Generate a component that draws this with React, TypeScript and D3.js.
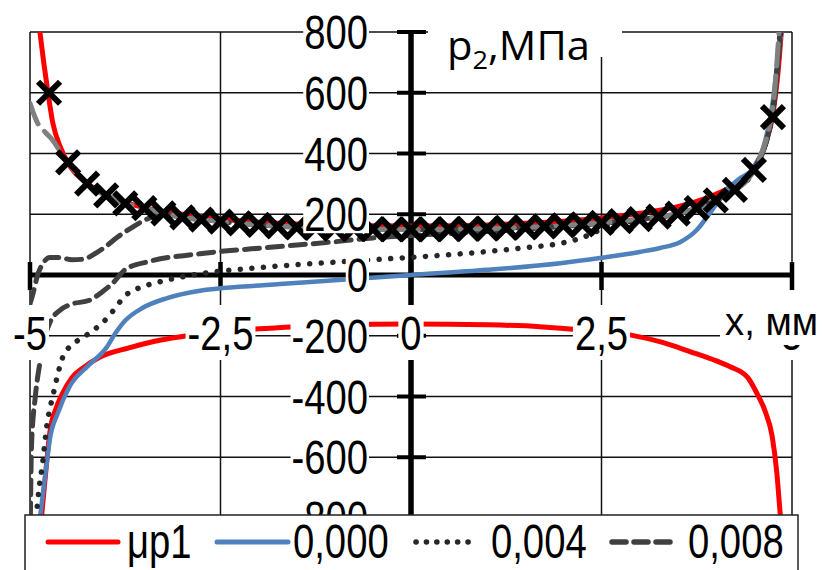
import React from "react";
import * as d3 from "d3";

type P = [number, number];

const X_TICKS = [-5, -2.5, 0, 2.5, 5];
const X_TICK_LABELS = ["-5", "-2,5", "0", "2,5", "5"];
const Y_TICKS = [-800, -600, -400, -200, 0, 200, 400, 600, 800];
const Y_TICK_LABELS = ["-800", "-600", "-400", "-200", "0", "200", "400", "600", "800"];

const LEGEND_LABELS = ["μp1", "0,000", "0,004", "0,008"];

const RED_UPPER: P[] = [[-4.87,800],[-4.82,700],[-4.77,610],[-4.7,500],[-4.6,420],[-4.5,368],[-4.25,302],[-4.0,262],[-3.75,238],[-3.5,222],[-3.0,200],[-2.5,184],[-2.0,174],[-1.5,168],[-1.0,164],[-0.5,162],[0,161],[0.5,162],[1.0,165],[1.5,170],[2.0,177],[2.5,188],[3.0,203],[3.5,225],[3.75,242],[4.0,266],[4.25,298],[4.5,355],[4.65,430],[4.75,530],[4.81,650],[4.86,800]];
const RED_LOWER: P[] = [[-4.85,-800],[-4.82,-720],[-4.79,-640],[-4.74,-518],[-4.66,-440],[-4.58,-393],[-4.45,-338],[-4.3,-305],[-4.08,-270],[-3.7,-240],[-3.3,-215],[-2.94,-200],[-2.5,-188],[-2.0,-177],[-1.5,-170],[-1.0,-165],[-0.5,-162],[0,-161],[0.5,-162],[1.0,-164],[1.69,-170],[2.3,-182],[2.87,-197],[3.3,-222],[3.66,-252],[4.0,-282],[4.19,-302],[4.42,-338],[4.55,-395],[4.65,-450],[4.74,-531],[4.8,-649],[4.84,-770],[4.85,-800]];
const BLUE_000: P[] = [[-4.87,-800],[-4.82,-700],[-4.78,-620],[-4.74,-541],[-4.63,-452],[-4.48,-367],[-4.25,-302],[-4.0,-240],[-3.88,-192],[-3.75,-150],[-3.52,-108],[-3.2,-76],[-2.77,-52],[-2.2,-38],[-1.72,-30],[-1.0,-17],[0,0],[1.0,17],[1.96,39],[2.48,56],[3.0,76],[3.27,89],[3.53,108],[3.75,148],[3.92,203],[4.14,279],[4.3,315],[4.49,351],[4.67,465],[4.75,574],[4.8,682],[4.86,800]];
const DOTTED_004: P[] = [[-4.92,-800],[-4.88,-700],[-4.84,-630],[-4.78,-498],[-4.69,-387],[-4.57,-270],[-4.45,-230],[-4.3,-205],[-4.17,-182],[-4.06,-160],[-3.95,-131],[-3.85,-98],[-3.75,-68],[-3.6,-46],[-3.32,-24],[-3.0,-6],[-2.66,8],[-2.18,20],[-1.72,30],[-1.0,42],[-0.4,52],[0,58],[0.9,75],[1.5,90],[2.0,106],[2.3,128],[2.45,145],[2.6,165],[3.0,180],[3.5,200],[4.0,245],[4.25,280],[4.5,346],[4.75,545],[4.85,800]];
const DASHED_008: P[] = [[-4.995,-800],[-4.98,-560],[-4.93,-400],[-4.87,-289],[-4.8,-200],[-4.74,-157],[-4.6,-115],[-4.48,-98],[-4.21,-82],[-4.05,-55],[-3.91,-26],[-3.75,18],[-3.43,45],[-2.77,70],[-1.81,92],[-1.06,108],[-0.5,122],[0,130],[1,143],[2,160],[2.5,170],[3.0,183],[3.5,202],[4,246],[4.5,346],[4.75,545],[4.85,800]];
const DASHED_B: P[] = [[-5,-95],[-4.96,-60],[-4.9,0],[-4.83,38],[-4.74,58],[-4.6,57],[-4.45,50],[-4.3,52],[-4.15,70],[-4.0,95],[-3.85,125],[-3.69,152],[-3.5,180],[-3.25,200],[-3.0,190],[-2.5,176],[-2.0,165],[-1.0,153],[0,150],[1,153],[2,163],[2.5,172],[3,184],[3.5,202],[3.75,220],[4,246],[4.25,280],[4.5,346],[4.75,540],[4.84,800]];
const GRAY_LINE: P[] = [[-5,565],[-4.9,500],[-4.8,470],[-4.7,443],[-4.55,385],[-4.38,334],[-4.2,290],[-4.0,262],[-3.75,236],[-3.5,220],[-3.0,190],[-2.5,176],[-2.0,165],[-1.0,153],[0,150],[1,153],[2,163],[2.5,172],[3,184],[3.5,202],[3.75,220],[4,246],[4.25,280],[4.5,346],[4.75,560],[4.83,800]];

const MARKER_X = [-4.75,-4.5,-4.25,-4.0,-3.75,-3.5,-3.25,-3.0,-2.75,-2.5,-2.25,-2.0,-1.75,-1.5,-1.25,-1.0,-0.75,-0.5,-0.25,0,0.25,0.5,0.75,1.0,1.25,1.5,1.75,2.0,2.25,2.5,2.75,3.0,3.25,3.5,3.75,4.0,4.25,4.5,4.75];
const MARKER_Y = [600,371,301,262,236,220,203,190,182,176,170,165,160,157,155,153,152,151,150,150,150,151,152,153,155,157,160,163,167,172,177,184,192,202,220,246,280,346,520];

const FONT = "'Liberation Sans', Arial, sans-serif";
const FS = 49;
const SX = 0.78;
const CW: Record<string, number> = { "-": 0.333, ",": 0.278, "μ": 0.576, p: 0.556 };
const textW = (s: string) => s.split("").reduce((a, c) => a + (CW[c] ?? 0.556), 0) * FS * SX;

function CText({ x, y, anchor, children }: { x: number; y: number; anchor: string; children: string }) {
  return (
    <text transform={`translate(${x},${y}) scale(${SX},1)`} textAnchor={anchor} fontSize={FS} fontFamily={FONT} fill="#000">
      {children}
    </text>
  );
}

export default function App() {
  const W = 822, H = 570;
  const x = d3.scaleLinear().domain([-5, 5]).range([30, 792]);
  const y = d3.scaleLinear().domain([-800, 800]).range([518, 32]);
  const line = d3.line<P>().x((d) => x(d[0])).y((d) => y(d[1])).curve(d3.curveMonotoneX);
  const x0 = x(0), y0 = y(0);
  const left = x(-5), right = x(5), top = y(800), bottom = y(-800);

  const series = [
    { d: RED_UPPER, stroke: "#ff0000", w: 5, dash: undefined as string | undefined, cap: "butt" },
    { d: RED_LOWER, stroke: "#ff0000", w: 5, dash: undefined, cap: "butt" },
    { d: BLUE_000, stroke: "#4f81bd", w: 4.5, dash: undefined, cap: "butt" },
    { d: DOTTED_004, stroke: "#262626", w: 5.5, dash: "0.1,11.5", cap: "round" },
    { d: DASHED_008, stroke: "#404040", w: 5, dash: "15,8", cap: "round" },
    { d: DASHED_B, stroke: "#404040", w: 5, dash: "15,8", cap: "round" },
    { d: GRAY_LINE, stroke: "#808080", w: 5, dash: "22,10", cap: "round" },
  ];

  const legendItems = [
    { x1: 48, x2: 118, tx: 127, stroke: "#ff0000", dash: undefined as string | undefined, cap: "round", w: 5 },
    { x1: 217, x2: 288, tx: 293, stroke: "#4f81bd", dash: undefined, cap: "round", w: 5 },
    { x1: 416, x2: 478, tx: 491, stroke: "#262626", dash: "0.1,10.3", cap: "round", w: 5.5 },
    { x1: 612, x2: 673, tx: 688, stroke: "#404040", dash: "14,8", cap: "round", w: 5.5 },
  ];

  return (
    <svg width={W} height={H} style={{ position: "absolute", left: 0, top: 0, background: "#fff" }}>
      <defs>
        <clipPath id="plot">
          <rect x={left} y={top} width={right - left} height={bottom - top} />
        </clipPath>
      </defs>
      <rect x={0} y={0} width={W} height={H} fill="#fff" />
      {Y_TICKS.map((t) => (
        <line key={"gy" + t} x1={left} x2={right} y1={y(t)} y2={y(t)} stroke="#111" strokeWidth={1.5} />
      ))}
      {X_TICKS.filter((t) => t !== 0).map((t) => (
        <line key={"gx" + t} x1={x(t)} x2={x(t)} y1={top} y2={bottom} stroke="#111" strokeWidth={1.5} />
      ))}
      <line x1={left} x2={right} y1={y0} y2={y0} stroke="#000" strokeWidth={5} />
      <line x1={x0} x2={x0} y1={top} y2={bottom} stroke="#000" strokeWidth={5.5} />
      {X_TICKS.map((t) => (
        <line key={"tx" + t} x1={x(t)} x2={x(t)} y1={y0 - 13} y2={y0 + 15} stroke="#000" strokeWidth={4.5} />
      ))}
      {Y_TICKS.map((t) => (
        <line key={"ty" + t} x1={x0 - 14} x2={x0 + 15} y1={y(t)} y2={y(t)} stroke="#000" strokeWidth={4} />
      ))}
      <g clipPath="url(#plot)">
        {series.map((s, i) => (
          <path key={i} d={line(s.d) || ""} fill="none" stroke={s.stroke} strokeWidth={s.w}
            strokeDasharray={s.dash} strokeLinecap={s.cap as any} strokeLinejoin="round" />
        ))}
        {MARKER_X.map((mx, i) => {
          const cx = x(mx), cy = y(MARKER_Y[i]);
          const r = 11;
          return (
            <g key={"m" + i} stroke="#000" strokeWidth={6} strokeLinecap="butt">
              <line x1={cx - r} y1={cy - r} x2={cx + r} y2={cy + r} />
              <line x1={cx - r} y1={cy + r} x2={cx + r} y2={cy - r} />
            </g>
          );
        })}
      </g>
      {Y_TICKS.map((t, i) => {
        const w = textW(Y_TICK_LABELS[i]);
        return (
          <g key={"yl" + t}>
            <rect x={368 - w - 1} y={y(t) - 19} width={w + 2} height={38} fill="#fff" />
            <CText x={368} y={y(t) + 17} anchor="end">{Y_TICK_LABELS[i]}</CText>
          </g>
        );
      })}
      {X_TICKS.map((t, i) => {
        const w = textW(X_TICK_LABELS[i]);
        return (
          <g key={"xl" + t}>
            <rect x={x(t) - w / 2 - 2} y={305} width={w + 4} height={55} fill="#fff" />
            <CText x={x(t)} y={350} anchor="middle">{X_TICK_LABELS[i]}</CText>
          </g>
        );
      })}
      <rect x={720} y={290} width={102} height={55} fill="#fff" />
      <text x={725} y={335} fontSize={38} fontFamily={FONT} textLength={93} lengthAdjust="spacingAndGlyphs">x, мм</text>
      <rect x={428} y={4} width={194} height={53} fill="#fff" />
      <text x={447} y={60} fontSize={40} fontFamily="'Open Sans', 'Noto Sans', sans-serif" textLength={143} lengthAdjust="spacingAndGlyphs">
        p<tspan fontSize={26} dy={9}>2</tspan><tspan dy={-9}>,МПа</tspan>
      </text>
      <rect x={25} y={515} width={773} height={80} fill="#fff" stroke="#222" strokeWidth={1.5} />
      {legendItems.map((it, i) => (
        <g key={"lg" + i}>
          <line x1={it.x1} x2={it.x2} y1={542} y2={542} stroke={it.stroke} strokeWidth={it.w}
            strokeDasharray={it.dash} strokeLinecap={it.cap as any} />
          <CText x={it.tx} y={558} anchor="start">{LEGEND_LABELS[i]}</CText>
        </g>
      ))}
    </svg>
  );
}
